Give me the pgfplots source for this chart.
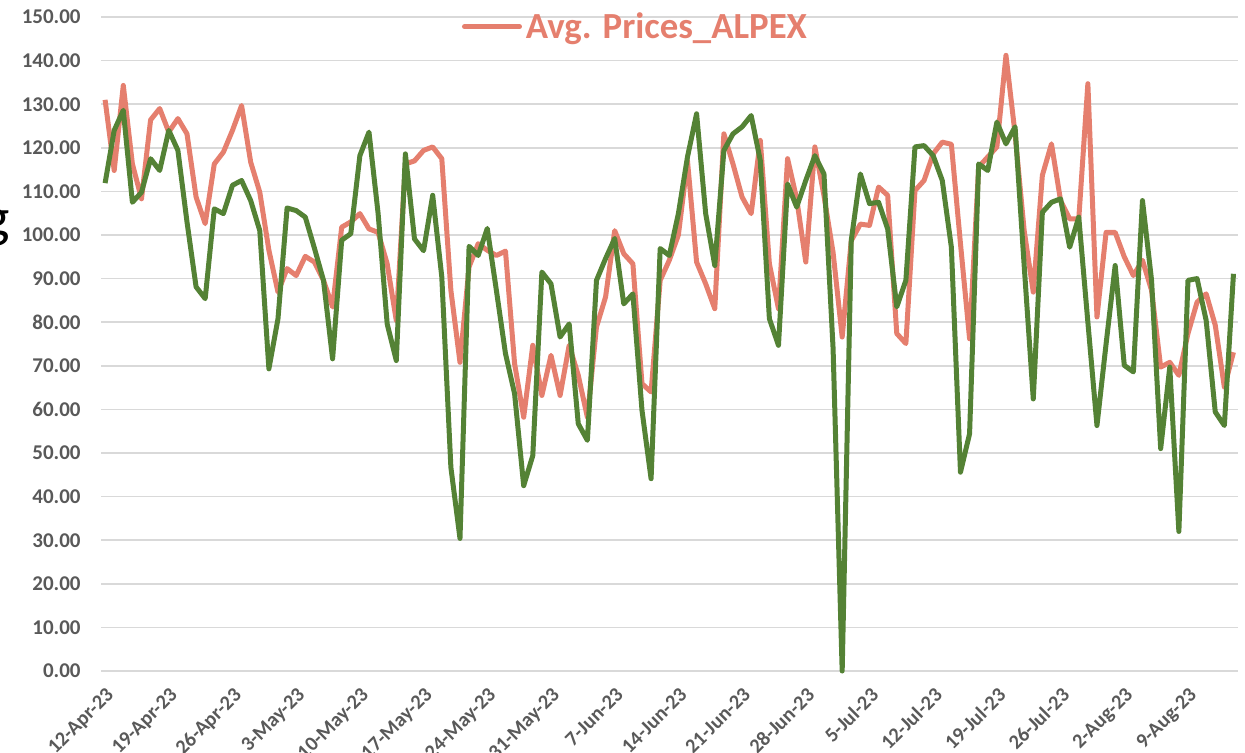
\documentclass[border=0pt]{standalone}
\usepackage{fontspec}
\setmainfont{Carlito}
\usepackage{pgfplots}
\pgfplotsset{compat=1.18}
\usepackage{pgfplotstable}
\definecolor{salmon}{HTML}{E57F6E}
\definecolor{dgreen}{HTML}{548235}
\definecolor{tickgray}{HTML}{595959}
\definecolor{gridgray}{HTML}{D9D9D9}
\pgfplotstableread{
i v
0 131.0
1 114.8
2 134.3
3 116.3
4 108.3
5 126.4
6 129.0
7 123.6
8 126.7
9 123.2
10 108.7
11 102.6
12 116.3
13 119.0
14 124.0
15 129.7
16 116.7
17 109.8
18 96.5
19 86.9
20 92.3
21 90.7
22 95.1
23 93.8
24 89.6
25 83.5
26 101.8
27 103.0
28 104.9
29 101.4
30 100.6
31 93.4
32 80.4
33 116.3
34 117.0
35 119.4
36 120.2
37 117.5
38 87.3
39 70.8
40 92.7
41 98.0
42 96.5
43 95.3
44 96.3
45 70.5
46 58.2
47 74.7
48 63.2
49 72.4
50 63.2
51 74.7
52 67.8
53 58.2
54 78.9
55 85.8
56 101.0
57 95.7
58 93.4
59 65.9
60 64.0
61 89.6
62 94.2
63 100.0
64 117.0
65 93.8
66 88.8
67 83.1
68 123.2
69 116.3
70 108.7
71 104.9
72 121.7
73 93.4
74 83.1
75 117.5
76 108.3
77 93.8
78 120.2
79 109.0
80 96.0
81 76.6
82 98.7
83 102.5
84 102.2
85 111.0
86 109.1
87 77.4
88 75.1
89 110.2
90 112.5
91 118.6
92 121.3
93 120.8
94 98.0
95 76.2
96 115.6
97 117.9
98 120.2
99 141.2
100 123.2
101 101.0
102 86.9
103 113.7
104 120.9
105 107.9
106 103.7
107 103.7
108 134.7
109 81.2
110 100.6
111 100.6
112 95.0
113 90.7
114 94.2
115 87.3
116 69.7
117 70.8
118 67.8
119 77.4
120 84.6
121 86.5
122 79.3
123 65.1
124 73.1
}\alpex
\pgfplotstableread{
i v
0 111.9
1 124.0
2 128.6
3 107.5
4 109.8
5 117.5
6 114.8
7 124.0
8 119.4
9 103.0
10 88.1
11 85.4
12 106.0
13 104.9
14 111.4
15 112.5
16 107.9
17 101.0
18 69.3
19 80.8
20 106.2
21 105.6
22 104.1
23 97.0
24 89.6
25 71.6
26 98.8
27 100.3
28 118.2
29 123.6
30 105.0
31 79.6
32 71.2
33 118.6
34 99.1
35 96.4
36 109.1
37 90.4
38 46.7
39 30.4
40 97.4
41 95.3
42 101.5
43 87.3
44 72.8
45 63.6
46 42.5
47 49.4
48 91.5
49 88.8
50 76.6
51 79.6
52 56.7
53 52.9
54 89.6
55 94.6
56 99.2
57 84.2
58 86.5
59 59.8
60 44.1
61 96.9
62 95.3
63 104.9
64 117.9
65 127.8
66 104.9
67 93.0
68 119.4
69 123.2
70 124.8
71 127.4
72 117.1
73 80.8
74 74.7
75 111.7
76 106.4
77 112.5
78 118.2
79 114.0
80 74.0
81 0.0
82 98.8
83 114.0
84 107.2
85 107.5
86 101.4
87 83.5
88 89.6
89 120.2
90 120.5
91 118.2
92 112.5
93 97.2
94 45.6
95 54.4
96 116.3
97 114.8
98 125.9
99 120.9
100 124.8
101 93.0
102 62.4
103 105.2
104 107.5
105 108.3
106 97.2
107 104.1
108 80.0
109 56.3
110 75.0
111 93.0
112 70.1
113 68.6
114 107.9
115 89.6
116 51.0
117 69.7
118 32.0
119 89.6
120 90.0
121 80.4
122 59.4
123 56.3
124 91.1
}\other
\begin{document}
\begin{tikzpicture}
\begin{axis}[
  at={(0,0)}, anchor=south west,
  scale only axis, width=568.5pt, height=327pt,
  xmin=-0.45, xmax=124.5, ymin=0, ymax=150,
  clip=false,
  axis line style={draw=none},
  tick style={draw=none},
  ymajorgrids, grid style={gridgray, line width=0.8pt},
  ytick={0,10,...,150},
  yticklabel style={/pgf/number format/fixed, /pgf/number format/fixed zerofill, /pgf/number format/precision=2, /pgf/number format/assume math mode=true,
    font=\bfseries\fontsize{10.5}{12}\selectfont, text=tickgray, inner sep=0pt, xshift=-10pt},
  xtick={0,7,...,119},
  xticklabels={12-Apr-23,19-Apr-23,26-Apr-23,3-May-23,10-May-23,17-May-23,24-May-23,31-May-23,7-Jun-23,14-Jun-23,21-Jun-23,28-Jun-23,5-Jul-23,12-Jul-23,19-Jul-23,26-Jul-23,2-Aug-23,9-Aug-23},
  xticklabel style={font=\bfseries\fontsize{10.2}{12}\selectfont, text=tickgray, inner sep=0pt, rotate=45, anchor=north east},
  xticklabel shift=7.5pt,
  legend style={at={(0.471,0.985)}, anchor=center, draw=none, fill=none, inner sep=0pt,
    font=\bfseries\fontsize{18.4}{21}\selectfont, text=salmon},
  legend image code/.code={\draw[#1, line cap=round] (0pt,0pt) -- (27.5pt,0pt);},
]
\addplot[salmon, line width=2.5pt, line join=round] table[x=i, y=v] {\alpex};
\addlegendentry{Avg. Prices\_ALPEX}
\addplot[dgreen, line width=2.5pt, line join=round, forget plot] table[x=i, y=v] {\other};
\end{axis}
\node[anchor=base east, font=\fontsize{28}{34}\selectfont, inner sep=0pt] at (-45.5pt,217pt) {g};
\pgfresetboundingbox
\useasboundingbox (-50.5pt,-41pt) rectangle (572pt,335.5pt);
\end{tikzpicture}
\end{document}
